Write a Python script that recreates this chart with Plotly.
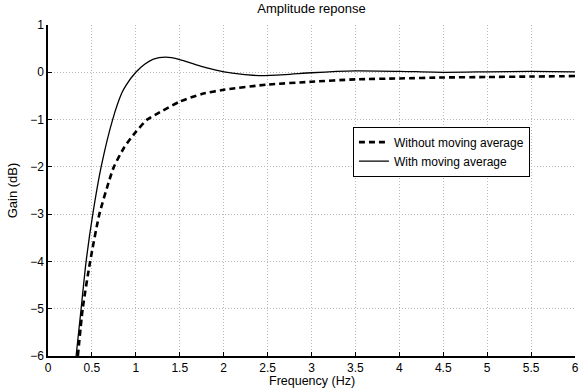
import plotly.graph_objects as go

# Data
freq_ma = [0.32, 0.377, 0.434, 0.51, 0.605, 0.736, 0.84, 0.89, 1.0, 1.1, 1.2, 1.34, 1.5, 1.7, 1.9, 2.1, 2.4, 2.7, 3.0, 3.5, 4.0, 4.5, 5.0, 5.5, 6.0]
gain_ma = [-6, -5, -4, -3, -2, -1, -0.44, -0.27, 0.0, 0.17, 0.28, 0.32, 0.27, 0.15, 0.05, -0.02, -0.07, -0.05, -0.01, 0.03, 0.02, 0.0, 0.01, 0.02, 0.01]

freq_raw = [0.34, 0.395, 0.48, 0.585, 0.70, 0.75, 0.87, 1.0, 1.13, 1.25, 1.5, 1.75, 2.0, 2.5, 3.0, 3.5, 4.0, 4.5, 5.0, 5.5, 6.0]
gain_raw = [-6, -5, -4, -3, -2.27, -2, -1.58, -1.26, -1.0, -0.87, -0.62, -0.46, -0.37, -0.26, -0.2, -0.15, -0.13, -0.11, -0.1, -0.09, -0.08]

x_ticks = [0, 0.5, 1, 1.5, 2, 2.5, 3, 3.5, 4, 4.5, 5, 5.5, 6]
x_labels = ["0", "0.5", "1", "1.5", "2", "2.5", "3", "3.5", "4", "4.5", "5", "5.5", "6"]
y_ticks = [-6, -5, -4, -3, -2, -1, 0, 1]
y_labels = ["\u22126", "\u22125", "\u22124", "\u22123", "\u22122", "\u22121", "0", "1"]

font = "Liberation Sans, Arial, sans-serif"

fig = go.Figure()
fig.add_trace(go.Scatter(x=freq_raw, y=gain_raw, mode="lines", name="Without moving average",
                         line=dict(color="black", width=2.6, dash="6px,4px", shape="spline", smoothing=0.6)))
fig.add_trace(go.Scatter(x=freq_ma, y=gain_ma, mode="lines", name="With moving average",
                         line=dict(color="black", width=1.3, shape="spline", smoothing=0.6)))

axis_common = dict(
    showgrid=True, gridcolor="#b8b8b8", griddash="1px,2px", gridwidth=1,
    showline=True, linecolor="black", linewidth=1.5,
    ticks="inside", ticklen=4, tickcolor="black",
    zeroline=False, mirror=False, automargin=False,
    tickfont=dict(family=font, size=12, color="black"),
)

fig.update_layout(
    width=585, height=389,
    margin=dict(l=48, r=10, t=25, b=33),
    paper_bgcolor="white", plot_bgcolor="white",
    title=dict(text="Amplitude reponse", x=0.5325, xanchor="center", y=0.99, yanchor="top",
               font=dict(family=font, size=13, color="black")),
    showlegend=True,
    legend=dict(x=0.9145, y=0.693, xanchor="right", yanchor="top",
                bgcolor="white", bordercolor="black", borderwidth=1,
                font=dict(family=font, size=12, color="black"),
                itemwidth=30, tracegroupgap=0),
    xaxis=dict(range=[0, 6], tickvals=x_ticks, ticktext=x_labels, **axis_common),
    yaxis=dict(range=[-6, 1], tickvals=y_ticks, ticktext=y_labels,
               title=dict(text="Gain (dB)", standoff=10, font=dict(family=font, size=13, color="black")),
               **axis_common),
    annotations=[dict(text="Frequency (Hz)", xref="paper", yref="paper", x=0.5, y=-0.052,
                      xanchor="center", yanchor="top", showarrow=False, borderpad=0,
                      font=dict(family=font, size=12.5, color="black"))],
)

fig.write_html("out.html")
